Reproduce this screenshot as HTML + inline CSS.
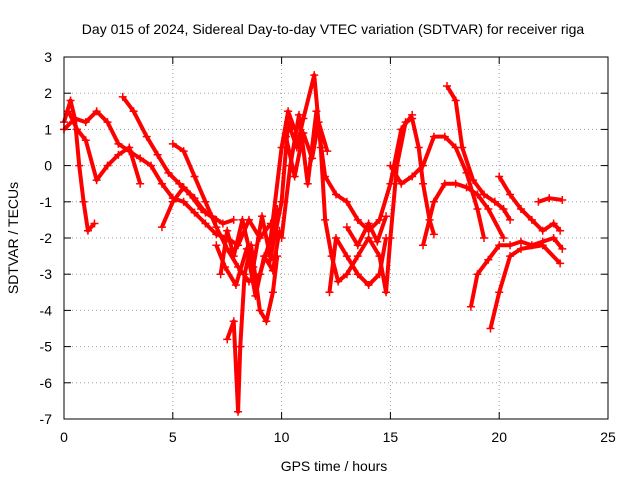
<!DOCTYPE html>
<html><head><meta charset="utf-8"><style>
body{margin:0;background:#fff}
svg text{font-family:"Liberation Sans",sans-serif;font-size:14px;fill:#000}
</style></head><body>
<svg id="chart" width="640" height="480">
<text x="333" y="34" text-anchor="middle">Day 015 of 2024, Sidereal Day-to-day VTEC variation (SDTVAR) for receiver riga</text>
<text x="334" y="471" text-anchor="middle">GPS time / hours</text>
<text transform="translate(18,238) rotate(-90)" text-anchor="middle">SDTVAR / TECUs</text>
<g id="grid"></g><g id="axes"></g><g id="marks"></g>
<rect x="64" y="57" width="544" height="362" fill="none" stroke="#000"/>
</svg>
<script>
const xTicks=[0,5,10,15,20,25];
const yTicks=[-7,-6,-5,-4,-3,-2,-1,0,1,2,3];
const tracks=[
[[0,1.2],[0.3,1.8],[0.5,1.3],[0.7,0],[0.9,-1],[1.1,-1.8],[1.4,-1.6]],
[[0,1.0],[0.5,1.3],[1,1.2],[1.5,1.5],[2,1.2],[2.5,0.6],[3,0.4],[3.5,0.2],[4,0],[4.5,-0.5],[5,-0.9],[5.5,-1.0],[6,-1.3],[6.5,-1.6],[7,-1.9],[7.5,-2.0],[8,-2.2],[8.5,-1.5],[9,-2.0],[9.5,-1.6]],
[[0.2,1.5],[0.6,1.0],[1,0.7],[1.5,-0.4],[2,0],[2.5,0.3],[3,0.5],[3.5,-0.5]],
[[2.7,1.9],[3.2,1.5],[3.8,0.8],[4.3,0.3],[4.8,-0.2],[5.3,-0.5],[5.8,-0.8],[6.3,-1.2],[6.8,-1.4],[7.3,-1.6],[7.8,-1.5]],
[[4.5,-1.7],[5,-1.0],[5.5,-0.6],[6,-0.9],[6.5,-1.3],[7,-1.5]],
[[5,0.6],[5.5,0.4],[6,-0.3],[6.5,-1],[7,-1.7],[7.5,-2.3],[8,-2.8],[8.5,-3.2],[9,-3.0],[9.5,-2.0],[10,0.5],[10.3,1.5],[10.6,1.0]],
[[7.5,-4.8],[7.8,-4.3],[8.0,-6.8],[8.1,-5],[8.3,-3],[8.6,-2.2],[9,-4],[9.3,-4.3],[9.6,-3.5],[9.8,-2.5]],
[[7.2,-3],[7.5,-1.8],[7.8,-2.5],[8.2,-1.5],[8.7,-2.8],[9.1,-1.4],[9.5,-2.6],[9.8,-1.2]],
[[7,-2.2],[7.4,-2.8],[7.9,-3.3],[8.4,-2.3],[8.8,-3.6],[9.2,-2.5],[9.6,-2.9],[9.9,-1.8]],
[[9.5,-2.5],[10,-1],[10.3,1.2],[10.7,0.5],[11,1.3],[11.5,2.5],[11.8,0.5],[12,-1.5],[12.3,-2.5],[12.6,-3.2],[13,-3],[13.5,-2.5],[14,-2.0],[14.5,-2.5],[14.8,-3.5],[15,-2],[15.3,0],[15.7,1.2],[16,1.3],[16.3,0.5],[16.5,-0.5],[16.8,-1.5],[17,-1.9]],
[[10,-2],[10.4,0],[10.8,1.4],[11.2,-0.5],[11.6,1.5],[12,-0.3],[12.5,-0.8],[13,-1.0],[13.5,-1.5],[14,-1.8],[14.5,-1.5],[15,-0.5],[15.5,1],[16,1.4]],
[[10.2,0.8],[10.6,-0.3],[11,0.9],[11.4,0.2],[11.7,1.2],[12.1,0.4]],
[[15,0],[15.5,-0.5],[16,-0.3],[16.5,0],[17,0.8],[17.5,0.8],[18,0.5],[18.5,-0.2],[19,-1.2],[19.3,-2.0]],
[[17.6,2.2],[18,1.8],[18.3,0.5],[18.8,-0.4],[19.3,-0.8],[19.8,-1.0],[20.2,-1.2],[20.5,-1.5]],
[[16.5,-2.2],[17,-1],[17.5,-0.5],[18,-0.5],[18.5,-0.6],[19,-0.8],[19.5,-1.2],[20.2,-2.0]],
[[20,-0.3],[20.5,-0.8],[21,-1.2],[21.5,-1.5],[22,-1.8],[22.5,-1.6],[22.8,-1.8]],
[[18.7,-3.9],[19,-3.0],[19.5,-2.6],[20,-2.2],[20.5,-2.2],[21,-2.1],[21.5,-2.2],[22,-2.1],[22.5,-2.0],[22.9,-2.3]],
[[19.6,-4.5],[20,-3.5],[20.5,-2.5],[21,-2.3],[22,-2.2],[22.8,-2.7]],
[[21.8,-1.0],[22.3,-0.9],[22.9,-0.95]],
[[12.2,-3.5],[12.5,-2],[13,-2.5],[13.5,-3],[14,-3.3],[14.5,-3],[14.8,-2]],
[[13,-1.7],[13.5,-2.2],[14,-1.6],[14.4,-2.1],[14.8,-1.4]]
];
const NS="http://www.w3.org/2000/svg";
const X=v=>64+v/25*544, Y=v=>419-(v+7)/10*362;
const g=document.getElementById('grid'),a=document.getElementById('axes'),m=document.getElementById('marks');
function mk(tag,at,p){const e=document.createElementNS(NS,tag);for(const k in at)e.setAttribute(k,at[k]);p.appendChild(e);return e;}
xTicks.forEach(t=>{
 const l=mk('line',{x1:X(t),x2:X(t),y1:57,y2:419,stroke:'#a0a0a0','stroke-dasharray':'1,3'},g);
 
 
 mk('line',{x1:X(t),x2:X(t),y1:419,y2:412,stroke:'#000'},a);
 mk('line',{x1:X(t),x2:X(t),y1:57,y2:64,stroke:'#000'},a);
 const tx=mk('text',{x:X(t),y:442,'text-anchor':'middle'},a);tx.textContent=t;
 
 
});
yTicks.forEach(t=>{
 const l=mk('line',{x1:64,x2:608,y1:Y(t),y2:Y(t),stroke:'#a0a0a0','stroke-dasharray':'1,3'},g);
 
 
 mk('line',{x1:64,x2:71,y1:Y(t),y2:Y(t),stroke:'#000'},a);
 mk('line',{x1:608,x2:601,y1:Y(t),y2:Y(t),stroke:'#000'},a);
 const tx=mk('text',{x:52,y:Y(t)+5,'text-anchor':'end'},a);tx.textContent=t;
 
 
});
tracks.forEach(tr=>{
 const pl=mk('polyline',{points:tr.map(p=>X(p[0])+','+Y(p[1])).join(' '),fill:'none',stroke:'#f00','stroke-width':4,'stroke-linejoin':'round'},m);
 
 
 tr.forEach(p=>{
  const x=X(p[0]),y=Y(p[1]);
  const pm=mk('path',{d:`M${x-4},${y}H${x+4}M${x},${y-4}V${y+4}`,stroke:'#f00','stroke-width':1.5},m);
  
  
 });
});
</script>
</body></html>
